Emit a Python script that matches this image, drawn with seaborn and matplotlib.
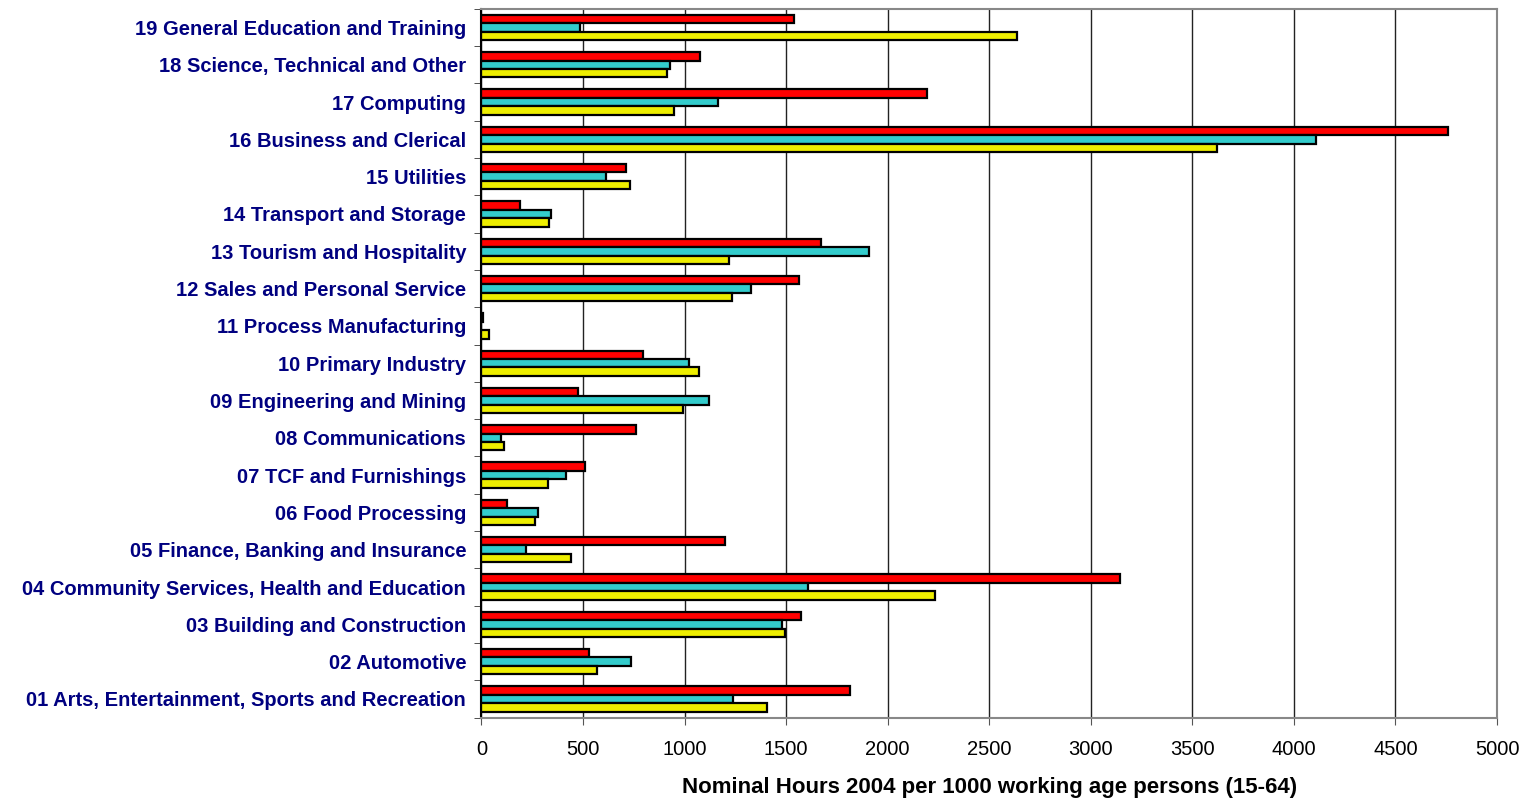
import numpy as np
import pandas as pd
import seaborn as sns
import matplotlib.pyplot as plt
from matplotlib.ticker import FixedLocator

categories = [
    "19 General Education and Training",
    "18 Science, Technical and Other",
    "17 Computing",
    "16 Business and Clerical",
    "15 Utilities",
    "14 Transport and Storage",
    "13 Tourism and Hospitality",
    "12 Sales and Personal Service",
    "11 Process Manufacturing",
    "10 Primary Industry",
    "09 Engineering and Mining",
    "08 Communications",
    "07 TCF and Furnishings",
    "06 Food Processing",
    "05 Finance, Banking and Insurance",
    "04 Community Services, Health and Education",
    "03 Building and Construction",
    "02 Automotive",
    "01 Arts, Entertainment, Sports and Recreation",
]
series_red = [1538, 1075, 2193, 4758, 714, 189, 1671, 1561, 6, 793, 477, 760,
              510, 126, 1201, 3143, 1574, 530, 1813]
series_cyan = [484, 930, 1167, 4111, 612, 341, 1907, 1329, 0, 1021, 1121, 98,
               414, 279, 221, 1608, 1480, 737, 1237]
series_yellow = [2638, 912, 947, 3619, 732, 335, 1219, 1234, 37, 1071, 991, 111,
                 326, 264, 440, 2234, 1493, 571, 1406]
series_names = ["Series 1", "Series 2", "Series 3"]
colors = ["#FF0000", "#33CCCC", "#EEEE00"]

df = pd.concat([
    pd.DataFrame({"category": categories, "hours": vals, "series": name})
    for name, vals in zip(series_names, [series_red, series_cyan, series_yellow])
])

sns.set_style("white")
plt.rcParams["font.family"] = ["Liberation Sans", "DejaVu Sans"]

fig = plt.figure(figsize=(15.26, 8.0), dpi=100)
ax = fig.add_axes([0.3155, 0.103, 0.6655, 0.886])

sns.barplot(data=df, y="category", x="hours", hue="series", order=categories,
            hue_order=series_names, palette=colors, saturation=1, orient="h",
            width=0.68, edgecolor="black", linewidth=1.6, legend=False, ax=ax)

ax.set_xlim(0, 5000)
ax.set_ylim(len(categories) - 0.5, -0.5)
ax.set_xticks(np.arange(0, 5001, 500))
ax.xaxis.grid(True, color="#222222", linewidth=1.0)
ax.set_axisbelow(True)

ax.tick_params(axis="x", labelsize=14.5, length=5, direction="out", bottom=True,
               color="#555555", pad=11, labelcolor="black")
ax.tick_params(axis="y", which="major", length=0, labelsize=14.5, pad=11,
               labelcolor="#000080")
ax.yaxis.set_minor_locator(FixedLocator(np.arange(-0.5, len(categories), 1)))
ax.tick_params(axis="y", which="minor", length=5, left=True, color="#333333")
for lab in ax.get_yticklabels():
    lab.set_fontweight("bold")

ax.set_ylabel("")
ax.set_xlabel("Nominal Hours 2004 per 1000 working age persons (15-64)",
              fontsize=16, fontweight="bold", labelpad=13, color="black")

for side in ["top", "right", "bottom"]:
    ax.spines[side].set_color("#888888")
    ax.spines[side].set_linewidth(1.5)
ax.spines["left"].set_color("black")
ax.spines["left"].set_linewidth(1.5)

fig.savefig("out.png", dpi=100)
